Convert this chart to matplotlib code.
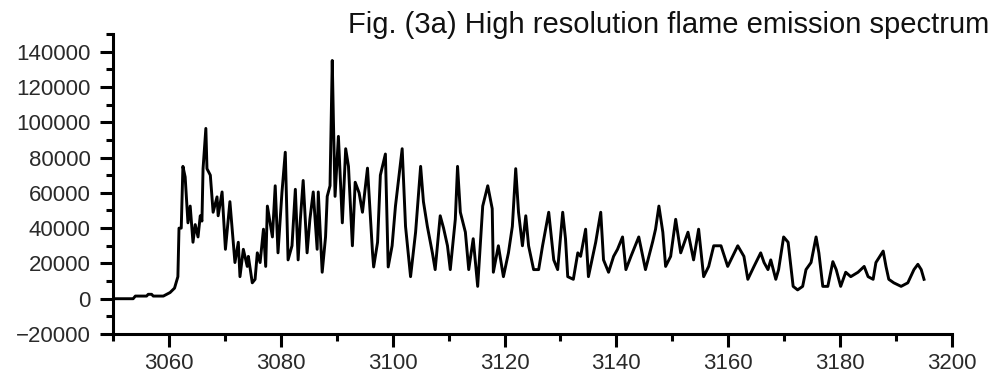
import matplotlib
matplotlib.use('Agg')
import matplotlib.pyplot as plt
from matplotlib.ticker import MultipleLocator

plt.rcParams['font.family'] = ['Liberation Sans', 'DejaVu Sans']

# wavenumber (cm-1) and intensity
wavenumber = [3050.0, 3053.6, 3054.0, 3056.0, 3056.3, 3056.9, 3057.2, 3059.0, 3060.2, 3061.0,
              3061.6, 3061.8, 3062.2, 3062.5, 3062.9, 3063.4, 3063.8, 3064.3, 3064.7, 3065.2,
              3065.6, 3065.9, 3066.1, 3066.6, 3066.8, 3067.4, 3067.9, 3068.6, 3068.8, 3069.5,
              3070.1, 3070.9, 3071.3, 3071.8, 3072.4, 3072.7, 3073.3, 3074.0, 3074.2, 3074.9,
              3075.4, 3075.8, 3076.3, 3076.9, 3077.3, 3077.6, 3078.5, 3079.0, 3079.5, 3080.2,
              3080.8, 3081.3, 3082.0, 3082.6, 3083.1, 3083.5, 3084.0, 3084.7, 3085.2, 3085.8,
              3086.5, 3086.7, 3087.4, 3088.0, 3088.3, 3088.8, 3089.2, 3089.4, 3089.7, 3090.3,
              3091.0, 3091.6, 3092.1, 3092.8, 3093.3, 3094.0, 3094.6, 3095.5, 3096.4, 3096.6,
              3097.3, 3097.8, 3098.7, 3099.2, 3099.9, 3100.5, 3101.7, 3102.3, 3103.2, 3104.1,
              3105.0, 3105.5, 3106.2, 3107.1, 3107.6, 3108.5, 3109.1, 3109.8, 3110.3, 3111.2,
              3111.6, 3112.1, 3113.0, 3113.6, 3114.4, 3115.2, 3116.1, 3117.0, 3117.8, 3118.0,
              3118.9, 3119.8, 3120.7, 3121.4, 3122.0, 3122.5, 3123.2, 3123.8, 3124.3, 3125.2,
              3126.1, 3126.8, 3127.9, 3128.8, 3129.5, 3130.4, 3130.9, 3131.3, 3132.3, 3133.1,
              3133.6, 3134.5, 3135.0, 3136.3, 3137.2, 3137.7, 3138.6, 3139.5, 3140.2, 3141.1,
              3141.7, 3142.6, 3144.0, 3145.2, 3146.5, 3147.0, 3147.6, 3148.3, 3148.8, 3149.7,
              3150.6, 3151.5, 3152.8, 3153.8, 3154.7, 3155.6, 3156.5, 3157.4, 3158.7, 3159.9,
              3161.7, 3162.8, 3163.5, 3164.6, 3165.8, 3166.4, 3167.1, 3167.6, 3168.5, 3169.0,
              3169.9, 3170.7, 3171.6, 3172.4, 3173.3, 3173.9, 3174.8, 3175.7, 3176.2, 3176.9,
              3177.8, 3178.7, 3179.3, 3180.1, 3181.0, 3181.9, 3183.2, 3184.3, 3185.0, 3185.9,
              3186.4, 3187.7, 3188.2, 3188.7, 3189.6, 3190.9, 3192.1, 3193.2, 3193.9, 3194.5,
              3195.0]
intensity = [0, 0, 1500, 1500, 2500, 2500, 1500, 1500, 3500, 6000,
             12500, 40000, 40000, 75000, 69000, 43000, 52500, 32000, 42000, 35000,
             47000, 44000, 73700, 96500, 73700, 70000, 49000, 57700, 47000, 60500,
             28000, 55000, 39400, 20500, 32000, 12500, 28000, 18300, 24000, 9000,
             11000, 26000, 20500, 39400, 18300, 52500, 35000, 64000, 26000, 60000,
             83000, 22000, 30000, 62000, 22000, 45000, 67000, 26000, 45000, 60500,
             28000, 60500, 15000, 35000, 58000, 64000, 135000, 102000, 58000, 92000,
             43000, 85000, 75000, 30000, 66000, 60000, 49000, 74000, 26000, 18000,
             32000, 70000, 82000, 18000, 30000, 52500, 85000, 41000, 12500, 37700,
             75000, 55000, 41000, 26000, 16500, 47000, 40000, 30000, 16500, 45000,
             75000, 49000, 37700, 16500, 34000, 7000, 52500, 64000, 51000, 15000,
             30000, 12500, 26000, 41000, 73700, 49000, 30000, 47000, 30000, 16500,
             16500, 30000, 49000, 22000, 16500, 49000, 34000, 12500, 11000, 26000,
             24000, 39400, 12500, 32000, 49000, 22000, 15000, 24000, 28000, 35000,
             16500, 24000, 35000, 16500, 32500, 39400, 52500, 37700, 18300, 24000,
             45000, 26000, 37700, 22000, 39400, 12500, 18300, 30000, 30000, 18300,
             30000, 24000, 11000, 18300, 26000, 20500, 16500, 22000, 11000, 16500,
             35000, 32000, 7000, 5000, 7000, 16500, 20500, 35000, 26000, 7000,
             7000, 21000, 16500, 7000, 15000, 12500, 15000, 18300, 12500, 11000,
             20500, 27000, 18300, 11000, 9000, 7000, 9000, 16500, 19500, 16500,
             11000]

title = 'Fig. (3a) High resolution flame emission spectrum'

fig = plt.figure(figsize=(9.93, 3.75), dpi=100)
ax = fig.add_axes([0.1138, 0.1093, 0.8449, 0.80])

ax.plot(wavenumber, intensity, color='black', linewidth=2.1)

ax.set_xlim(3050, 3200)
ax.set_ylim(-20000, 150000)
ax.xaxis.set_major_locator(MultipleLocator(20))
ax.xaxis.set_minor_locator(MultipleLocator(10))
ax.yaxis.set_major_locator(MultipleLocator(20000))
ax.yaxis.set_minor_locator(MultipleLocator(10000))
ax.set_xticks(range(3060, 3201, 20))

for side in ['top', 'right']:
    ax.spines[side].set_visible(False)
for side in ['left', 'bottom']:
    ax.spines[side].set_linewidth(2.2)

ax.tick_params(which='major', direction='out', length=9.5, width=2.2, pad=6.5,
               labelsize=16, labelcolor='#2a2a2a')
ax.tick_params(axis='x', which='major', pad=4.5)
ax.tick_params(which='minor', direction='out', length=5, width=2.2)

fig.text(0.996, 1 - 33 / 375, title, ha='right', va='baseline', fontsize=21, color='#111111')

fig.savefig('out.png', dpi=100)
